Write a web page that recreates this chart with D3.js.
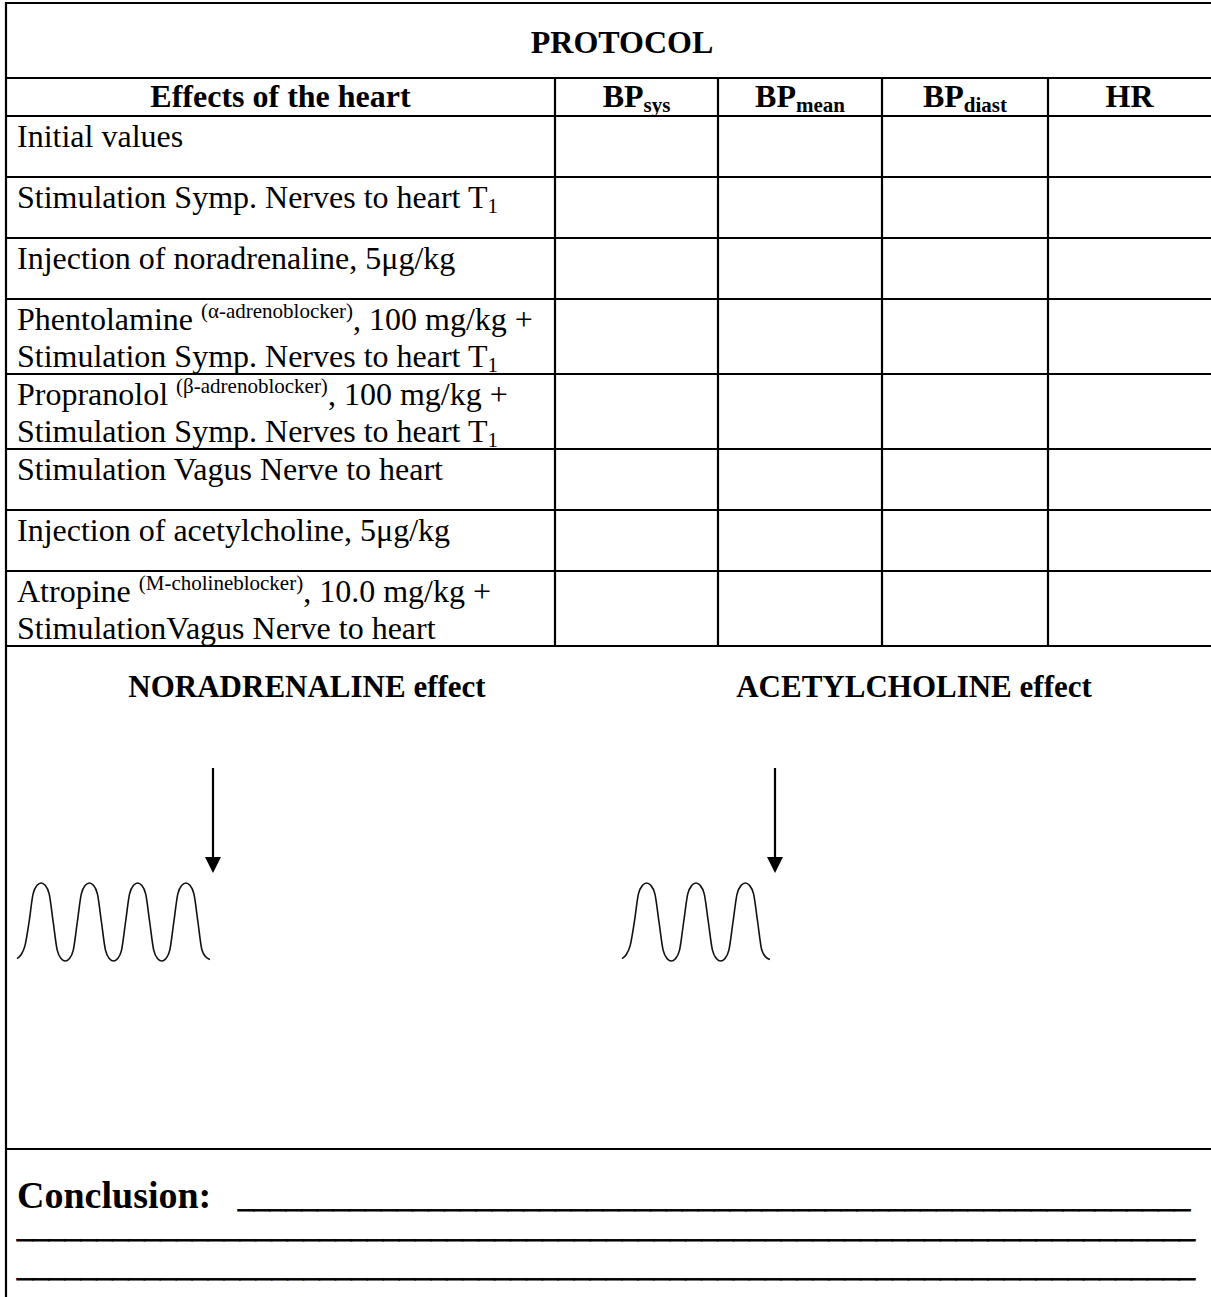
<!DOCTYPE html>
<html><head><meta charset="utf-8">
<script src="https://cdn.jsdelivr.net/npm/d3@7"></script>
<style>
body{margin:0;background:#fff}
svg{display:block;font-family:"Liberation Serif","Times New Roman",serif}
text{white-space:pre;fill:#000}
</style>
</head><body><svg id="c" width="1211" height="1297"></svg>
<script>
// ---------- data ----------
const title = "PROTOCOL";
const firstHeader = "Effects of the heart";
const measureBase = ["BP", "BP", "BP", "HR"];
const measureSub = ["sys", "mean", "diast", ""];
// each row = list of text lines; each line = segments [text, kind]
const rowLabels = [
  [[["Initial values", ""]]],
  [[["Stimulation Symp. Nerves to heart T", ""], ["1", "sub"]]],
  [[["Injection of noradrenaline, 5μg/kg", ""]]],
  [[["Phentolamine ", ""], ["(α-adrenoblocker)", "sup"], [", 100 mg/kg +", ""]],
   [["Stimulation Symp. Nerves to heart T", ""], ["1", "sub"]]],
  [[["Propranolol ", ""], ["(β-adrenoblocker)", "sup"], [", 100 mg/kg +", ""]],
   [["Stimulation Symp. Nerves to heart T", ""], ["1", "sub"]]],
  [[["Stimulation Vagus Nerve to heart", ""]]],
  [[["Injection of acetylcholine, 5μg/kg", ""]]],
  [[["Atropine ", ""], ["(M-cholineblocker)", "sup"], [", 10.0 mg/kg +", ""]],
   [["StimulationVagus Nerve to heart", ""]]]
];
const effectTitles = ["NORADRENALINE effect", "ACETYLCHOLINE effect"];
// pressure traces (relative level, 0 = trough, 1 = peak), 12 samples per beat
const noradrenalineWave = [
  0.03,0.08,0.2,0.5,0.86,0.97,1,0.97,0.86,0.5,0.14,0.03,
  0,0.03,0.14,0.5,0.86,0.97,1,0.97,0.86,0.5,0.14,0.03,
  0,0.03,0.14,0.5,0.86,0.97,1,0.97,0.86,0.5,0.14,0.03,
  0,0.03,0.14,0.5,0.86,0.97,1,0.97,0.86,0.5,0.14,0.05,0.02];
const acetylcholineWave = [
  0.03,0.08,0.2,0.5,0.86,0.97,1,0.97,0.86,0.5,0.14,0.03,
  0,0.03,0.14,0.5,0.86,0.97,1,0.97,0.86,0.5,0.14,0.03,
  0,0.03,0.14,0.5,0.86,0.97,1,0.97,0.86,0.5,0.14,0.05,0.02];
const conclusionLabel = "Conclusion: ";

// ---------- layout ----------
const svg = d3.select("#c");
const colEdges = [6, 555, 718, 882, 1048, 1211];
const topY = 3, titleBottom = 78, headerBottom = 116;
const singleH = 61, doubleH = 75;
const rowH = rowLabels.map(r => r.length > 1 ? doubleH : singleH);
const rowEdges = [headerBottom, ...Array.from(d3.cumsum(rowH), v => headerBottom + v)];
const tableBottom = rowEdges[rowEdges.length - 1];
const sepY = 1149;

const rowScale = d3.scaleOrdinal().domain(d3.range(rowLabels.length)).range(rowEdges.slice(0, -1));

function addLine(g, x, y, segs, opts) {
  const fs = opts.size || 32;
  const t = g.append("text").attr("x", x).attr("y", y)
    .attr("font-size", fs).attr("font-weight", opts.bold ? "bold" : "normal")
    .attr("text-anchor", opts.anchor || "start");
  let shift = 0;
  segs.forEach(([s, k]) => {
    const target = k === "sub" ? 5 : k === "sup" ? -12 : 0;
    t.append("tspan").attr("dy", target - shift).attr("font-size", k ? Math.round(fs * 0.66) : fs).text(s);
    shift = target;
  });
  return t;
}

const lines = svg.append("g").attr("stroke", "#000").attr("stroke-width", 2.2).attr("fill", "none");
lines.append("line").attr("x1", colEdges[0]).attr("x2", colEdges[0]).attr("y1", topY - 1).attr("y2", 1297);
lines.append("line").attr("x1", colEdges[0]).attr("x2", 1211).attr("y1", topY).attr("y2", topY);
lines.append("line").attr("x1", colEdges[0]).attr("x2", 1211).attr("y1", titleBottom).attr("y2", titleBottom);
lines.selectAll("line.row").data(rowEdges).join("line").attr("class", "row")
  .attr("x1", colEdges[0]).attr("x2", 1211).attr("y1", d => d).attr("y2", d => d);
lines.selectAll("line.col").data(colEdges.slice(1, -1)).join("line").attr("class", "col")
  .attr("x1", d => d).attr("x2", d => d).attr("y1", titleBottom).attr("y2", tableBottom);
lines.append("line").attr("x1", colEdges[0]).attr("x2", 1211).attr("y1", sepY).attr("y2", sepY);

const tg = svg.append("g");
addLine(tg, 622, 53, [[title, ""]], {bold: true, anchor: "middle"});
addLine(tg, (colEdges[0] + colEdges[1]) / 2, 107, [[firstHeader, ""]], {bold: true, anchor: "middle"});
measureBase.forEach((b, i) => {
  const cx = (colEdges[i + 1] + colEdges[i + 2]) / 2;
  const segs = [[b, ""]];
  if (measureSub[i]) segs.push([measureSub[i], "sub"]);
  addLine(tg, cx, 107, segs, {bold: true, anchor: "middle"});
});
rowLabels.forEach((r, i) => {
  r.forEach((segs, j) => addLine(tg, 17, rowScale(i) + 31 + j * 37, segs, {}));
});

// effect section
const effectCenters = [307, 914];
effectTitles.forEach((t, i) => addLine(tg, effectCenters[i], 697, [[t, ""]], {bold: true, anchor: "middle", size: 31}));

const yWave = d3.scaleLinear().domain([0, 1]).range([961, 883]);
const waves = [
  {data: noradrenalineWave, x0: 17, x1: 210, arrowX: 213},
  {data: acetylcholineWave, x0: 622, x1: 770, arrowX: 775}
];
waves.forEach(w => {
  const x = d3.scaleLinear().domain([0, w.data.length - 1]).range([w.x0, w.x1]);
  svg.append("path").datum(w.data)
    .attr("d", d3.line().x((d, i) => x(i)).y(d => yWave(d)).curve(d3.curveMonotoneX))
    .attr("fill", "none").attr("stroke", "#111").attr("stroke-width", 1.6);
  svg.append("line").attr("x1", w.arrowX).attr("x2", w.arrowX).attr("y1", 768).attr("y2", 860)
    .attr("stroke", "#000").attr("stroke-width", 2.2);
  svg.append("path").attr("d", `M${w.arrowX - 8},857 L${w.arrowX + 8},857 L${w.arrowX},873 Z`).attr("fill", "#000");
});

// conclusion
const ct = tg.append("text").attr("x", 17).attr("y", 1208).attr("font-size", 38).attr("font-weight", "bold");
ct.append("tspan").text(conclusionLabel);
ct.append("tspan").attr("x", 238).attr("font-size", 24).attr("textLength", 952)
  .attr("lengthAdjust", "spacingAndGlyphs").attr("stroke", "#000").attr("stroke-width", 0.8)
  .text("_".repeat(60));
[1238, 1277].forEach(y => tg.append("text").attr("x", 17).attr("y", y).attr("font-size", 24).attr("font-weight", "bold")
  .attr("stroke", "#000").attr("stroke-width", 0.8)
  .attr("textLength", 1178).attr("lengthAdjust", "spacingAndGlyphs").text("_".repeat(74)));
</script></body></html>
